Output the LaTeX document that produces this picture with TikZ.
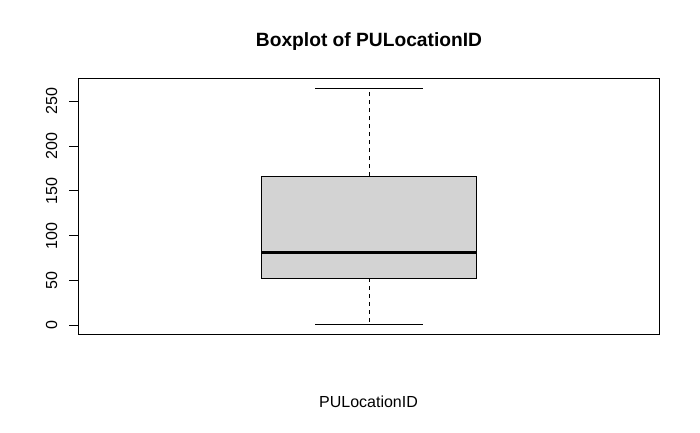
\documentclass[tikz,border=0pt]{standalone}
\usepackage{fontspec}
\setmainfont{Liberation Sans}
\tikzset{
  ticklabel/.style={rotate=90, anchor=base, inner sep=0pt, font=\fontsize{16}{19}\selectfont},
  whisker/.style={dash pattern=on 4pt off 4pt, line width=0.9pt},
}
\begin{document}
\begin{tikzpicture}[x=1pt, y=1pt, line width=1pt]
			\useasboundingbox (0,0) rectangle (700,432);
			\node[anchor=base, inner sep=0pt, font=\bfseries\fontsize{19.2}{23}\selectfont] (title) at (369,385.3) {Boxplot of PULocationID};
			\node[anchor=base, inner sep=0pt, font=\fontsize{16}{19}\selectfont] (xlab) at (368.5,24.5) {PULocationID};
			\draw (78.3,98) rectangle (659.3,353.7);
			% data scale
			\begin{scope}[shift={(0,106.7)}, y=0.896pt]
				\draw (78.3,0) -- (78.3,250);
				\foreach \v in {0,50,...,250} {
					\draw (69.3,\v) -- (78.3,\v);
					\node[ticklabel] (t\v) at (57,\v) {\v};
				}
				\draw[fill={rgb,255:red,211;green,211;blue,211}] (261.3,52.5) coordinate(Q1) rectangle (476.7,166.5) coordinate(Q3);
				\draw[line width=3pt] (261.3,81.5) coordinate(ML) -- (476.7,81.5) coordinate(MR);
				\draw[whisker] (369,166.5) coordinate(B) -- (369,264) coordinate(T);
				\draw[whisker] (369,52.5) coordinate(C) -- (369,1) coordinate(D);
				\draw (315,264) -- (422.7,264);
				\draw (315,1) -- (422.7,1);
			\end{scope}
		\end{tikzpicture}
\end{document}
